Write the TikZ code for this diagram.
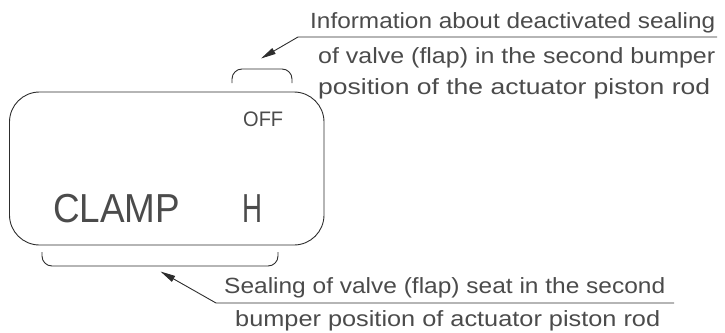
\documentclass[tikz,border=0pt]{standalone}
\usepackage{fontspec}
\setmainfont{Liberation Sans}
\usepackage{graphicx}
\usetikzlibrary{arrows.meta}
\definecolor{inkc}{RGB}{45,45,45}
\definecolor{txtc}{RGB}{75,75,75}
\tikzset{
  outline/.style={draw=inkc, line width=0.9pt},
  leader/.style={draw=inkc, line width=0.9pt, -{Triangle[length=15pt,width=6.5pt]}},
  caption/.style={inner sep=0pt, anchor=base west, text=txtc, font=\fontsize{22}{26}\selectfont},
  lcd/.style={inner sep=0pt, anchor=base west, text=txtc},
}
\newcommand{\fitw}[2]{\resizebox{#1}{\height}{#2}}
\begin{document}
\begin{tikzpicture}[x=1pt,y=-1pt]
\useasboundingbox (0,0) rectangle (725,332);
% display frame
\draw[outline, rounded corners=30pt] (9.5,92) rectangle (324,245);
% brackets
\coordinate (ta) at (232,83);
\coordinate (tb) at (292,83);
\draw[outline, rounded corners=10pt] (ta) |- (262,69) -| (tb);
\coordinate (ba) at (42,252);
\coordinate (bb) at (278,252);
\draw[outline, rounded corners=10pt] (ba) |- (160,266) -| (bb);
% leaders
\coordinate (t0) at (717,37);
\coordinate (t1) at (298,37);
\coordinate (tt) at (261,58.5);
\draw[leader] (t0) -- (t1) -- (tt);
\coordinate (b0) at (674,303);
\coordinate (b1) at (216,303);
\coordinate (bt) at (160.5,271.5);
\draw[leader] (b0) -- (b1) -- (bt);
% display texts
\node[lcd, font=\fontsize{21}{24}\selectfont] (off) at (243,126) {\fitw{40pt}{OFF}};
\node[lcd, font=\fontsize{40.5}{48}\selectfont] (clamp) at (53,222) {\fitw{127pt}{CLAMP}};
\node[lcd, font=\fontsize{40.5}{48}\selectfont] (h) at (242,222) {\fitw{20pt}{H}};
% captions
\node[caption] (c1) at (310,28) {\fitw{405pt}{Information about deactivated sealing}};
\node[caption] (c2) at (318,63) {\fitw{397pt}{of valve (flap) in the second bumper}};
\node[caption] (c3) at (318,94) {\fitw{392pt}{position of the actuator piston rod}};
\node[caption] (c4) at (224,293) {\fitw{441pt}{Sealing of valve (flap) seat in the second}};
\node[caption] (c5) at (235,326) {\fitw{425pt}{bumper position of actuator piston rod}};
\end{tikzpicture}
\end{document}
